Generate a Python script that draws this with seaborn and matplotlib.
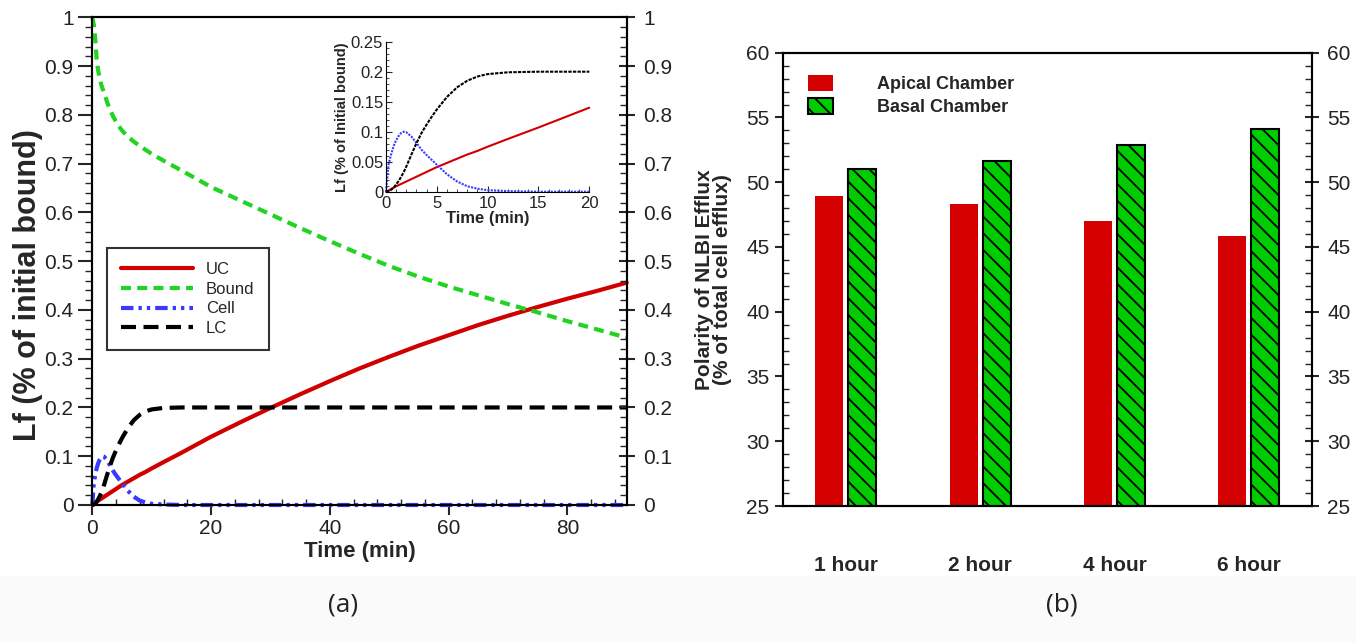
import numpy as np
import pandas as pd
import matplotlib
matplotlib.use("Agg")
import matplotlib.pyplot as plt
import seaborn as sns
from matplotlib.ticker import MultipleLocator, FuncFormatter
from matplotlib.patches import Patch, Rectangle

# ---------------- data ----------------
time_min = [0, 0.25, 0.5, 0.75, 1, 1.25, 1.5, 1.75, 2, 2.5, 3, 3.5, 4, 4.5, 5,
            6, 7, 8, 9, 10, 12, 15, 20, 25, 30, 35, 40, 45, 50, 55, 60, 65,
            70, 75, 80, 85, 90]
uc = [0, 0.002, 0.0045, 0.0067, 0.009, 0.011, 0.013, 0.015, 0.017, 0.021,
      0.025, 0.029, 0.033, 0.037, 0.041, 0.048, 0.055, 0.062, 0.068, 0.075,
      0.088, 0.107, 0.14, 0.17, 0.199, 0.227, 0.254, 0.28, 0.304, 0.327,
      0.348, 0.369, 0.388, 0.406, 0.423, 0.439, 0.456]
bound = [1.0, 0.985, 0.955, 0.91, 0.89, 0.875, 0.862, 0.853, 0.845, 0.826,
         0.81, 0.797, 0.786, 0.776, 0.768, 0.755, 0.745, 0.736, 0.728, 0.72,
         0.706, 0.686, 0.652, 0.624, 0.596, 0.568, 0.541, 0.515, 0.49, 0.468,
         0.448, 0.43, 0.412, 0.395, 0.377, 0.36, 0.343]
cell = [0, 0.045, 0.062, 0.076, 0.086, 0.093, 0.098, 0.1, 0.099, 0.092,
        0.081, 0.07, 0.061, 0.053, 0.045, 0.029, 0.017, 0.009, 0.005, 0.0025,
        0.001, 0, 0, 0, 0, 0, 0, 0, 0, 0, 0, 0, 0, 0, 0, 0, 0]
lc = [0, 0.001, 0.003, 0.007, 0.012, 0.018, 0.025, 0.033, 0.042, 0.062,
      0.081, 0.098, 0.112, 0.125, 0.137, 0.158, 0.174, 0.185, 0.192, 0.196,
      0.199, 0.2, 0.2, 0.2, 0.2, 0.2, 0.2, 0.2, 0.2, 0.2, 0.2, 0.2, 0.2, 0.2,
      0.2, 0.2, 0.2]
series_labels = ["UC", "Bound", "Cell", "LC"]

bar_categories = ["1 hour", "2 hour", "4 hour", "6 hour"]
apical = [48.9, 48.3, 47.0, 45.85]
basal = [51.05, 51.65, 52.9, 54.1]
chambers = ["Apical Chamber", "Basal Chamber"]

# ---------------- style ----------------
sns.set_theme(style="ticks")
plt.rcParams["font.family"] = ["Liberation Sans", "DejaVu Sans"]
plt.rcParams["hatch.linewidth"] = 1.3
plt.rcParams["axes.linewidth"] = 1.5
plt.rcParams["axes.edgecolor"] = "black"

W, H = 1356, 642
RED = "#d00000"
GREEN = "#22d422"
BLUE = "#3a3aff"
BAR_RED = "#d40000"
BAR_GREEN = "#00cc00"
TXT = "#222222"
TICK_FS = 15

fig = plt.figure(figsize=(W / 100, H / 100), dpi=100)
fig.patches.append(Rectangle((0, 0), 1, (H - 576) / H, transform=fig.transFigure,
                             facecolor="#fafafa", edgecolor="none", zorder=-10))

fmt = FuncFormatter(lambda v, p: f"{v:g}")

# ---------------- panel (a) ----------------
ax = fig.add_axes([92.3 / W, 1 - 505 / H, 534.4 / W, 487.7 / H])
styles = [("-", RED), ((0, (2.4, 1.5)), GREEN),
          ((0, (3, 1.2, 0.8, 1.2, 0.8, 1.2)), BLUE), ((0, (3.6, 1.8)), "black")]
for yv, lab, (ls, col) in zip([uc, bound, cell, lc], series_labels, styles):
    sns.lineplot(x=time_min, y=yv, ax=ax, color=col, lw=3, linestyle=ls,
                 label=lab, estimator=None, clip_on=False)
ax.set_xlim(0, 90)
ax.set_ylim(0, 1)
ax.xaxis.set_major_locator(MultipleLocator(20))
ax.xaxis.set_minor_locator(MultipleLocator(4))
ax.yaxis.set_major_locator(MultipleLocator(0.1))
ax.yaxis.set_minor_locator(MultipleLocator(0.02))
ax.yaxis.set_major_formatter(fmt)
ax.tick_params(axis="x", which="major", direction="out", length=7, width=1.5,
               labelsize=TICK_FS, labelcolor=TXT, pad=3)
ax.tick_params(axis="x", which="minor", direction="in", length=4, width=1)
ax.tick_params(axis="y", which="major", direction="out", length=10, width=1.5,
               labelsize=TICK_FS, labelcolor=TXT)
ax.tick_params(axis="y", which="minor", direction="out", length=5, width=1)
ax.set_xlabel("Time (min)", fontsize=16, fontweight="bold", labelpad=2)
ax.set_ylabel("Lf (% of initial bound)", fontsize=22, fontweight="bold")
ax.yaxis.set_label_coords(-0.093, 0.45)
for s in ax.spines.values():
    s.set_visible(True)
    s.set_linewidth(1.5)

leg = ax.legend(loc="upper left", bbox_to_anchor=(0.027, 0.527), borderaxespad=0,
                fontsize=12, handlelength=4.3, handletextpad=0.8, labelspacing=0.28,
                frameon=True, fancybox=False, edgecolor="black", borderpad=0.85)
leg.get_frame().set_linewidth(1.5)

ax2 = ax.twinx()
ax2.set_ylim(0, 1)
ax2.yaxis.set_major_locator(MultipleLocator(0.1))
ax2.yaxis.set_minor_locator(MultipleLocator(0.02))
ax2.yaxis.set_major_formatter(fmt)
ax2.tick_params(axis="y", which="major", direction="inout", length=12, width=1.5,
                labelsize=TICK_FS, labelcolor=TXT, pad=6)
ax2.tick_params(axis="y", which="minor", direction="in", length=5, width=1)
for s in ax2.spines.values():
    s.set_visible(True)
    s.set_linewidth(1.5)

# inset
axi = fig.add_axes([386 / W, 1 - 191.7 / H, 203.3 / W, 150 / H])
axi.patch.set_alpha(0)
mask = [t <= 20 for t in time_min]
t_in = [t for t, m in zip(time_min, mask) if m]
inset_styles = [("-", RED), ((0, (1, 0.6)), BLUE), ((0, (1.6, 0.6)), "black")]
for yv, (ls, col) in zip([uc, cell, lc], inset_styles):
    y_in = [v for v, m in zip(yv, mask) if m]
    sns.lineplot(x=t_in, y=y_in, ax=axi, color=col, lw=1.5, linestyle=ls,
                 estimator=None, legend=False, clip_on=False)
axi.set_xlim(0, 20)
axi.set_ylim(0, 0.25)
axi.xaxis.set_major_locator(MultipleLocator(5))
axi.yaxis.set_major_locator(MultipleLocator(0.05))
axi.yaxis.set_minor_locator(MultipleLocator(0.01))
axi.xaxis.set_minor_locator(MultipleLocator(1))
axi.yaxis.set_major_formatter(fmt)
axi.tick_params(axis="both", which="major", direction="in", length=4, width=0.8,
                labelsize=12, labelcolor=TXT, pad=2)
axi.tick_params(axis="x", which="major", pad=3)
axi.tick_params(axis="both", which="minor", direction="in", length=2, width=0.6)
axi.spines["top"].set_visible(False)
axi.spines["right"].set_visible(False)
axi.spines["left"].set_linewidth(0.8)
axi.spines["bottom"].set_linewidth(0.8)
axi.set_xlabel("Time (min)", fontsize=12, fontweight="bold", labelpad=0)
axi.set_ylabel("Lf (% of Initial bound)", fontsize=10.5, fontweight="bold", labelpad=1)

# ---------------- panel (b) ----------------
axb = fig.add_axes([782.7 / W, 1 - 506 / H, 529.3 / W, 453.3 / H])
df = pd.DataFrame({
    "Time": bar_categories * 2,
    "Chamber": [chambers[0]] * len(apical) + [chambers[1]] * len(basal),
    "Value": apical + basal,
})
sns.barplot(data=df, x="Time", y="Value", hue="Chamber",
            palette=[BAR_RED, BAR_GREEN], width=0.49, gap=0.15, saturation=1,
            ax=axb, legend=False, err_kws={"linewidth": 0})
for p in axb.containers[0]:
    p.set_edgecolor("none")
for p in axb.containers[1]:
    p.set_hatch("\\\\")
    p.set_edgecolor("black")
    p.set_linewidth(1.5)
axb.set_xlim(-0.47, 3.47)
axb.set_ylim(25, 60)
axb.yaxis.set_major_locator(MultipleLocator(5))
axb.yaxis.set_minor_locator(MultipleLocator(1))
axb.tick_params(axis="y", which="major", direction="out", length=6, width=1.5,
                labelsize=TICK_FS, labelcolor=TXT)
axb.tick_params(axis="y", which="minor", direction="in", length=4, width=1)
axb.tick_params(axis="x", length=0, labelsize=15, pad=36)
for lab in axb.get_xticklabels():
    lab.set_fontweight("bold")
axb.set_xlabel("")
axb.set_ylabel("Polarity of NLBI Efflux\n(% of total cell efflux)", fontsize=15,
               fontweight="bold", linespacing=0.95)
axb.yaxis.set_label_coords(-0.095, 0.5)
for s in axb.spines.values():
    s.set_visible(True)
    s.set_linewidth(1.5)

axb2 = axb.twinx()
axb2.set_ylim(25, 60)
axb2.yaxis.set_major_locator(MultipleLocator(5))
axb2.yaxis.set_minor_locator(MultipleLocator(1))
axb2.tick_params(axis="y", which="major", direction="inout", length=10, width=1.5,
                 labelsize=TICK_FS, labelcolor=TXT, pad=6)
axb2.tick_params(axis="y", which="minor", direction="in", length=5, width=1)
for s in axb2.spines.values():
    s.set_visible(True)
    s.set_linewidth(1.5)

handles = [Patch(facecolor=BAR_RED, edgecolor="none"),
           Patch(facecolor=BAR_GREEN, edgecolor="black", hatch="\\\\", linewidth=1.5)]
lg = axb.legend(handles, chambers, loc="upper left", bbox_to_anchor=(0.048, 0.95),
                borderaxespad=0, borderpad=0, frameon=False, handlelength=1.4,
                handleheight=0.95, handletextpad=2.4, labelspacing=0.28,
                prop={"size": 13, "weight": "bold"})

# captions
fig.text(343 / W, 1 - 605 / H, "(a)", ha="center", va="center", fontsize=19,
         family=["Open Sans", "DejaVu Sans"], color=TXT)
fig.text(1062 / W, 1 - 605 / H, "(b)", ha="center", va="center", fontsize=19,
         family=["Open Sans", "DejaVu Sans"], color=TXT)

fig.savefig("out.png", dpi=100)
